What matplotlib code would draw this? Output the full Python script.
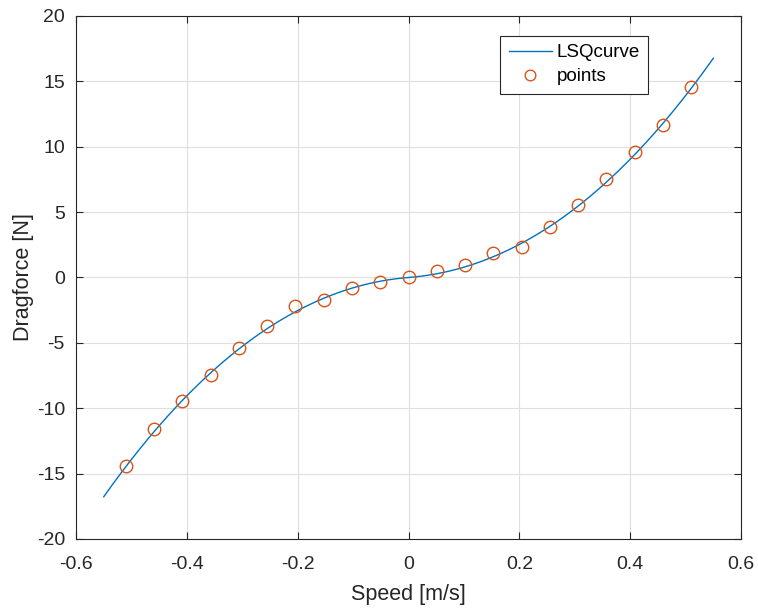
import numpy as np
import matplotlib.pyplot as plt

plt.rcParams['font.family'] = ['Liberation Sans', 'DejaVu Sans']

# measured speed / drag force samples
speed = [-0.510, -0.459, -0.408, -0.357, -0.306, -0.255, -0.204, -0.153, -0.102, -0.051, 0.0,
         0.051, 0.102, 0.153, 0.204, 0.255, 0.306, 0.357, 0.408, 0.459, 0.510]
drag = [-14.4, -11.6, -9.45, -7.45, -5.4, -3.7, -2.2, -1.7, -0.8, -0.35, 0.05,
        0.5, 0.95, 1.9, 2.35, 3.85, 5.55, 7.5, 9.6, 11.65, 14.55]

xticks = [-0.6, -0.4, -0.2, 0, 0.2, 0.4, 0.6]
yticks = [-20, -15, -10, -5, 0, 5, 10, 15, 20]

# least squares fit F = a*v + b*v|v| + c*v^3
sp = np.array(speed)
A = np.column_stack([sp, sp * np.abs(sp), sp ** 3])
coef, *_ = np.linalg.lstsq(A, np.array(drag), rcond=None)
v = np.linspace(-0.55, 0.55, 200)
f = np.column_stack([v, v * np.abs(v), v ** 3]) @ coef

fig = plt.figure(figsize=(7.58, 6.10), dpi=100)
ax = fig.add_axes([0.1003, 0.1164, 0.8773, 0.8574])

ax.plot(v, f, color='#0072BD', lw=1.0, label='LSQcurve')
ax.plot(speed, drag, 'o', mfc='none', mec='#D95319', ms=9, mew=1.0, label='points')

ax.set_xlim(-0.6, 0.6)
ax.set_ylim(-20, 20)
ax.set_xticks(xticks)
ax.set_yticks(yticks)
ax.set_xticklabels([f'{t:g}' for t in xticks])
ax.set_yticklabels([f'{t:g}' for t in yticks])
ax.tick_params(direction='in', length=5, width=0.8, colors='#262626', labelsize=14,
               top=True, right=True, pad=8)
ax.tick_params(axis='x', pad=12)
for s in ax.spines.values():
    s.set_color('#262626')
    s.set_linewidth(0.8)
ax.grid(True, color='#DFDFDF', lw=0.8)
ax.set_axisbelow(True)

ax.set_xlabel('Speed [m/s]', fontsize=15.5, color='#262626', labelpad=8)
ax.set_ylabel('Dragforce [N]', fontsize=15.5, color='#262626', labelpad=2)

leg = ax.legend(loc='upper left', bbox_to_anchor=(0.638, 0.962), fontsize=13.5,
                frameon=True, fancybox=False, edgecolor='#262626', framealpha=1,
                handlelength=2.3, handletextpad=0.25, borderpad=0.45, labelspacing=0.35,
                markerscale=0.85, borderaxespad=0)
leg.get_frame().set_linewidth(0.8)

fig.savefig('out.png', dpi=100)
